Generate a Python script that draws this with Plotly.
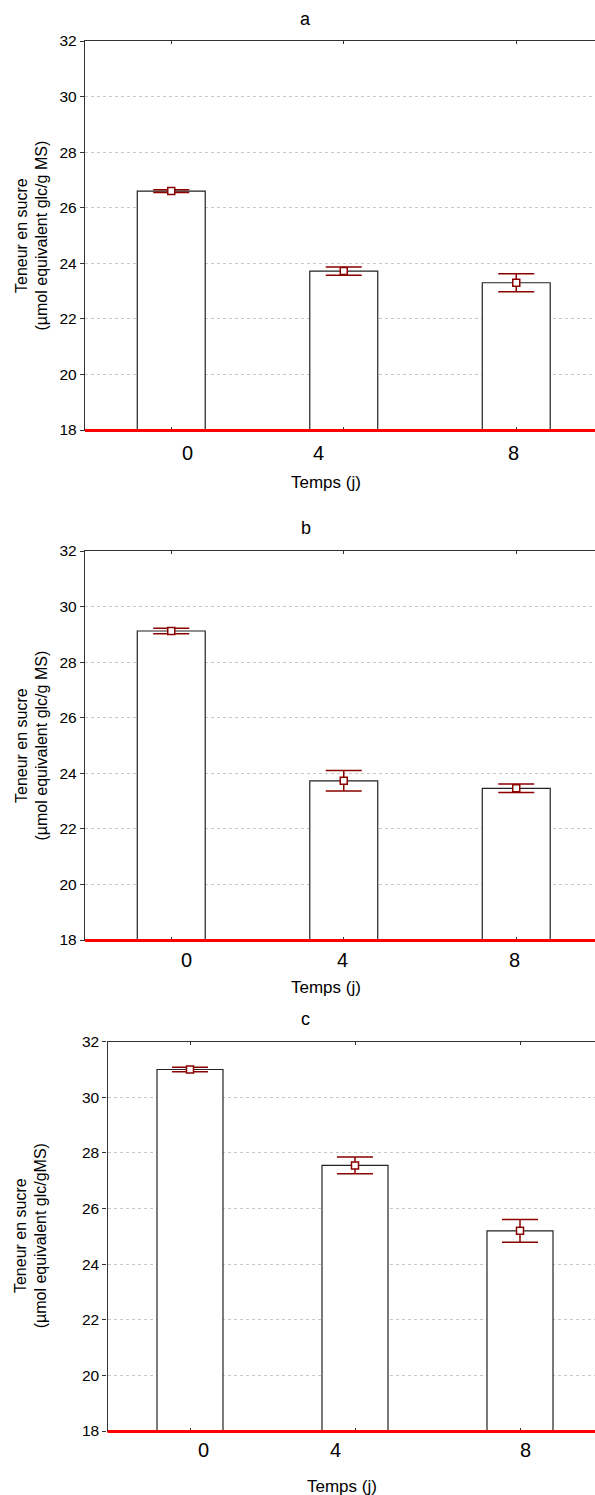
import plotly.graph_objects as go

# ---- data ----
categories = ["0", "4", "8"]
panel_titles = ["a", "b", "c"]
values_a = [26.6, 23.72, 23.3]
errors_a = [0.05, 0.15, 0.32]
values_b = [29.12, 23.73, 23.46]
errors_b = [0.10, 0.37, 0.15]
values_c = [31.0, 27.55, 25.2]
errors_c = [0.08, 0.30, 0.41]
y_ticks = [18, 20, 22, 24, 26, 28, 30, 32]
x_title = "Temps (j)"
y_titles = ["Teneur en sucre<br>(µmol equivalent glc/g MS)",
            "Teneur en sucre<br>(µmol equivalent glc/g MS)",
            "Teneur en sucre<br>(µmol equivalent glc/gMS)"]

W, H = 595, 1495
FONT = "Liberation Sans, Arial, sans-serif"

# layout geometry (pixels)
panels = [
    dict(vals=values_a, errs=errors_a, top=41, bot=430, left=85, step=172.5, bw=0.394,
         lab_dx=[16, -25, -3], lab_dy=23, xt=(326, 483), tt=(306, 19)),
    dict(vals=values_b, errs=errors_b, top=551, bot=940, left=85, step=172.5, bw=0.394,
         lab_dx=[15, -1, -2], lab_dy=20, xt=(326, 987), tt=(306, 528)),
    dict(vals=values_c, errs=errors_c, top=1041.7, bot=1431, left=107.5, step=165, bw=0.40,
         lab_dx=[13, -20, 5], lab_dy=19, xt=(342, 1486), tt=(306, 1019)),
]

fig = go.Figure()
annotations = []
shapes = []
layout = {}

for i, p in enumerate(panels):
    n = "" if i == 0 else str(i + 1)
    xa, ya = "x" + n, "y" + n
    fig.add_trace(go.Bar(
        x=categories, y=p["vals"], width=p["bw"], xaxis=xa, yaxis=ya,
        marker=dict(color="white", line=dict(color="#222222", width=1.2)),
        showlegend=False, hoverinfo="skip",
    ))
    fig.add_trace(go.Scatter(
        x=categories, y=p["vals"], mode="markers", xaxis=xa, yaxis=ya,
        marker=dict(symbol="square", size=7, color="white",
                    line=dict(color="#8b0000", width=1.5)),
        error_y=dict(type="data", array=p["errs"], visible=True,
                     color="#8b0000", thickness=1.5, width=18),
        showlegend=False, hoverinfo="skip",
    ))
    plot_w = W - p["left"]
    xmax = -0.5 + plot_w / p["step"]
    layout["xaxis" + n] = dict(
        domain=[p["left"] / W, 1], anchor=ya, type="category",
        range=[-0.5, xmax], showline=True, linecolor="#333333", linewidth=1.3,
        mirror="ticks", ticks="inside", ticklen=3, tickcolor="#333333",
        showticklabels=False, showgrid=False, zeroline=False, fixedrange=True,
        automargin=False,
    )
    layout["yaxis" + n] = dict(
        domain=[1 - p["bot"] / H, 1 - p["top"] / H], anchor=xa,
        range=[18, 32], tickvals=y_ticks, showline=True, linecolor="#333333",
        linewidth=1.3, ticks="outside", ticklen=4, tickcolor="#333333",
        showgrid=True, gridcolor="#c8c8c8", griddash="dot", gridwidth=1,
        zeroline=False, tickfont=dict(size=15.5, color="#000000", family=FONT),
        fixedrange=True, automargin=False,
    )
    # red baseline (paper coords so it is not clipped by the plot area)
    shapes.append(dict(type="line", xref="paper", yref="paper",
                       x0=p["left"] / W, x1=1,
                       y0=1 - (p["bot"] + 0.5) / H, y1=1 - (p["bot"] + 0.5) / H,
                       line=dict(color="#ff0000", width=3), layer="above"))
    # category labels
    for k, c in enumerate(categories):
        annotations.append(dict(
            x=k, y=0, xref=xa, yref=ya + " domain", text=c, showarrow=False,
            xanchor="center", yanchor="middle", xshift=p["lab_dx"][k], yshift=-p["lab_dy"],
            font=dict(size=20, color="#000000", family=FONT)))
    # x title
    annotations.append(dict(
        x=p["xt"][0] / W, y=1 - p["xt"][1] / H, xref="paper", yref="paper",
        text=x_title, showarrow=False, xanchor="center", yanchor="middle",
        font=dict(size=17, color="#000000", family=FONT)))
    # panel title
    annotations.append(dict(
        x=p["tt"][0] / W, y=1 - p["tt"][1] / H, xref="paper", yref="paper",
        text=panel_titles[i], showarrow=False, xanchor="center", yanchor="middle",
        font=dict(size=18, color="#000000", family=FONT)))
    # y title
    annotations.append(dict(
        x=31 / W, y=0.5, xref="paper", yref=ya + " domain",
        text=y_titles[i], showarrow=False, textangle=-90,
        xanchor="center", yanchor="middle",
        font=dict(size=16, color="#000000", family=FONT)))

fig.update_layout(
    width=W, height=H, margin=dict(l=0, r=0, t=0, b=0, pad=0, autoexpand=False),
    paper_bgcolor="white", plot_bgcolor="white", showlegend=False,
    annotations=annotations, shapes=shapes, **layout,
)

post = ("document.documentElement.style.margin='0';"
        "document.body.style.margin='0';document.body.style.padding='0';"
        "document.body.style.overflow='hidden';"
        "var d=document.getElementById('{plot_id}');"
        "d.style.position='fixed';d.style.top='0px';d.style.left='0px';")

fig.write_html("out.html", config={"displayModeBar": False}, post_script=post)
